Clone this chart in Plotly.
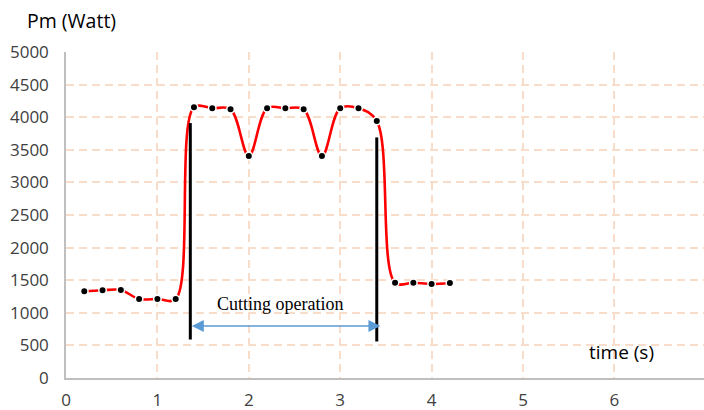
import plotly.graph_objects as go

# Measured mechanical power over time
time_s = [0.2, 0.4, 0.6, 0.8, 1.0, 1.2, 1.4, 1.6, 1.8, 2.0, 2.2,
          2.4, 2.6, 2.8, 3.0, 3.2, 3.4, 3.6, 3.8, 4.0, 4.2]
power_w = [1330, 1345, 1350, 1212, 1212, 1210, 4153, 4137, 4122, 3405, 4137,
           4137, 4122, 3405, 4137, 4137, 3942, 1462, 1462, 1442, 1457]

# Start / end markers of the cutting operation
cut_start_x = [1.36, 1.36]
cut_start_y = [590, 3910]
cut_end_x = [3.40, 3.40]
cut_end_y = [560, 3690]
arrow_y = 798
arrow_x = [1.36, 3.44]
label_text = "Cutting operation"
label_pos = (2.34, 1135)

x_ticks = [0, 1, 2, 3, 4, 5, 6]
y_ticks = list(range(0, 5001, 500))

grid_color = "#F8DDCA"
axis_color = "#BFBFBF"
text_color = "#404040"
font_family = "Open Sans"

fig = go.Figure()

fig.add_trace(go.Scatter(
    x=time_s, y=power_w, mode="lines+markers",
    line=dict(color="#FF0000", width=2.6, shape="spline", smoothing=1.0),
    marker=dict(color="black", size=7.5, line=dict(color="white", width=1.5)),
    hoverinfo="skip", showlegend=False,
))

for xs, ys in [(cut_start_x, cut_start_y), (cut_end_x, cut_end_y)]:
    fig.add_trace(go.Scatter(
        x=xs, y=ys, mode="lines",
        line=dict(color="black", width=3),
        hoverinfo="skip", showlegend=False,
    ))

# Double-headed arrow spanning the cutting phase
fig.add_annotation(
    x=arrow_x[1], y=arrow_y, ax=arrow_x[0], ay=arrow_y,
    xref="x", yref="y", axref="x", ayref="y",
    text="", showarrow=True, arrowside="end+start",
    arrowhead=2, arrowsize=1.6, arrowwidth=1.5, arrowcolor="#5B9BD5",
)

fig.add_annotation(
    x=label_pos[0], y=label_pos[1], xref="x", yref="y",
    text=label_text, showarrow=False,
    font=dict(family="Liberation Serif", size=18, color="black"),
)

fig.add_annotation(
    x=-0.064, y=1.098, xref="paper", yref="paper", xanchor="left", yanchor="middle",
    text="Pm (Watt)", showarrow=False,
    font=dict(family=font_family, size=19.5, color="black"),
)

fig.add_annotation(
    x=0.87, y=0.08, xref="paper", yref="paper", xanchor="center", yanchor="middle",
    text="time (s)", showarrow=False,
    font=dict(family=font_family, size=19, color="black"),
)

fig.update_layout(
    width=704, height=410,
    margin=dict(l=66, r=0, t=52, b=32),
    paper_bgcolor="white", plot_bgcolor="white",
    font=dict(family=font_family, size=17, color=text_color),
    xaxis=dict(
        range=[0, 6.98], tickvals=x_ticks, ticktext=[str(v) for v in x_ticks],
        showgrid=True, gridcolor=grid_color, griddash="8px,5px", gridwidth=2,
        showline=True, linecolor=axis_color, linewidth=1.5, automargin=False,
        zeroline=False, ticks="outside", ticklen=6, tickcolor="rgba(0,0,0,0)",
    ),
    yaxis=dict(
        range=[0, 5000], tickvals=y_ticks,
        showgrid=True, gridcolor=grid_color, griddash="8px,5px", gridwidth=2,
        showline=True, linecolor=axis_color, linewidth=1.5, automargin=False,
        zeroline=False, ticks="outside", ticklen=12, tickcolor="rgba(0,0,0,0)",
    ),
)

fig.write_html("out.html")
